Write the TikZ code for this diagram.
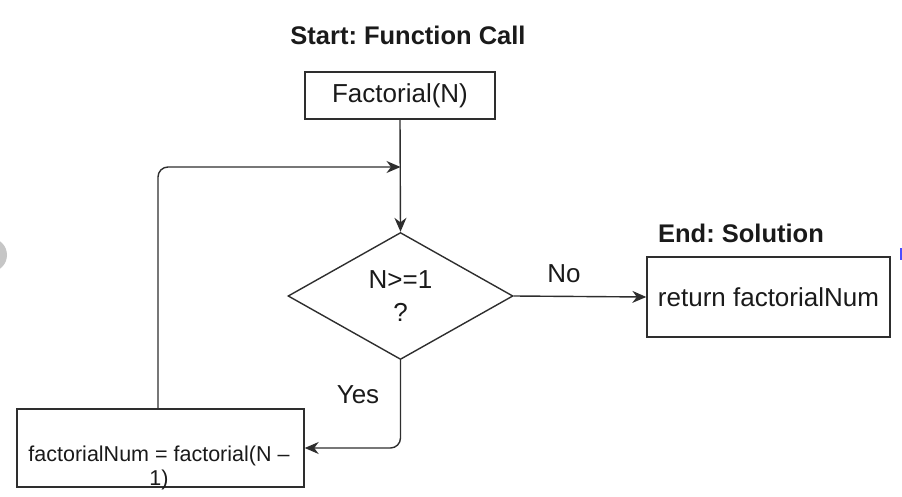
\documentclass[tikz,border=0pt]{standalone}
\usepackage{fontspec}
\setmainfont{Liberation Sans}
\usetikzlibrary{shapes.geometric,arrows.meta,positioning}
\frenchspacing
\definecolor{linegray}{HTML}{2E2E2E}
\definecolor{txtgray}{HTML}{1A1A1A}
\tikzstyle{process}  = [rectangle, draw=linegray, line width=1.4pt, inner sep=0pt, text=txtgray]
\tikzstyle{decision} = [diamond, draw=linegray, line width=1.4pt, inner sep=0pt, aspect=1.77, align=center, text=txtgray]
\tikzstyle{heading}  = [font=\fontsize{25.5}{30}\selectfont\bfseries, text=txtgray, anchor=base]
\tikzstyle{flow}     = [line width=1.4pt, draw=linegray, -{Stealth[length=14pt,width=12pt,inset=4.5pt]}]

\begin{document}
\begin{tikzpicture}[x=1pt, y=-1pt, font=\fontsize{26}{33}\selectfont]
		\useasboundingbox (0,0) rectangle (902,497);
		% screenshot edges
		\fill[gray!45] (-10,255) circle (17);
		\fill[blue!70] (900,248) rectangle (903,260);

		% titles
		\node[heading] (startlbl) at (408,45) {Start: Function Call};
		\node[heading] (endlbl) at (741,242) {End: Solution};

		% boxes
		\node[process, minimum width=190pt, minimum height=47pt] (call) at (400,95.5) {Factorial(N)};
		\node[decision, minimum width=225pt, minimum height=127pt] (check) at (400.5,296) {N>=1\\?};
		\node[process, minimum width=243pt, minimum height=80pt] (ret) at (768.5,297) {return factorialNum};
		\node[process, minimum width=287pt, minimum height=78pt] (fact) at (160.5,448) {};
		\node[align=center, text=txtgray, font=\fontsize{21.5}{24}\selectfont, anchor=north] (facttxt) at (159,442) {factorialNum = factorial(N --\\1)};

		% connectors
		\coordinate (join) at (400.5,167);
		\draw[flow] (call.south) -- (check.north);
		\draw[flow, rounded corners=10pt] ([xshift=-2.5pt]fact.north) |- (join);
		\draw[flow] (check.east) -- (ret.west);
		\draw[flow, rounded corners=10pt] (check.south) |- (fact.east);

		% labels
		\node[text=txtgray] (nolbl) at (564,274) {No};
		\node[text=txtgray] (yeslbl) at (358,395) {Yes};
	\end{tikzpicture}
\end{document}
